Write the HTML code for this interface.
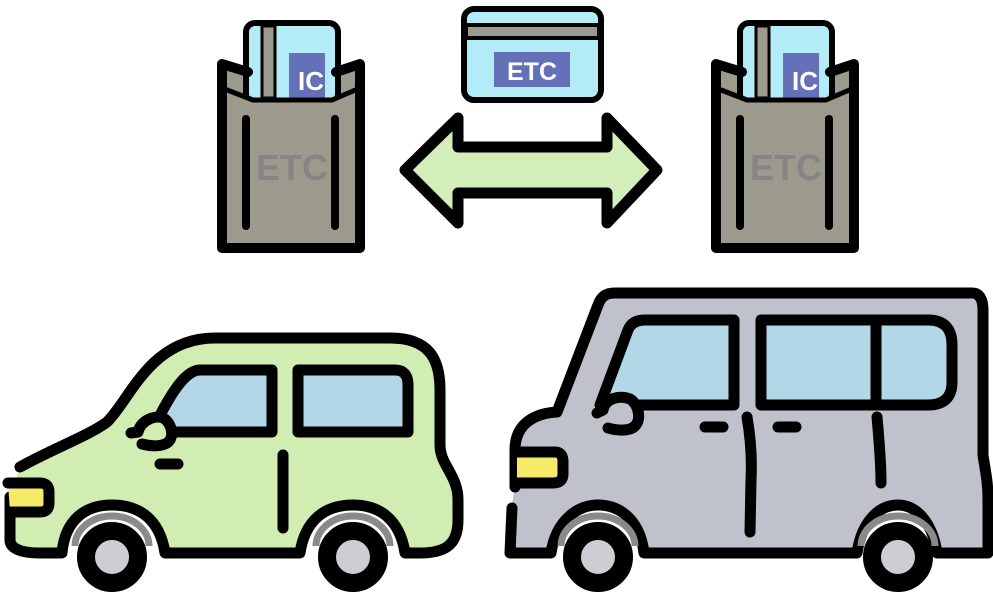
<!DOCTYPE html>
<html><head><meta charset="utf-8"><style>html,body{margin:0;padding:0;background:#fff}svg{display:block}</style></head>
<body>
<svg width="993" height="593" viewBox="0 0 993 593" xmlns="http://www.w3.org/2000/svg" font-family="Liberation Sans, sans-serif">
<defs>
<g id="pouch">
  <polygon points="222,64 248,72 335,72 360,64 360,248 222,248" fill="#9b9a8d"/>
  <rect x="246" y="23" width="92" height="80" rx="9" fill="#b3ecf7" stroke="#000" stroke-width="6"/>
  <rect x="262" y="26" width="13" height="72" fill="#9b9a8d" stroke="#000" stroke-width="3"/>
  <rect x="289" y="53" width="36" height="45" fill="#6470b8"/>
  <text x="298" y="90" font-size="26" font-weight="bold" fill="#fff">IC</text>
  <polygon points="222,88 253,100 332,100 360,88 360,248 222,248" fill="#9b9a8d"/>
  <polyline points="222,88 253,100 332,100 360,88" fill="none" stroke="#000" stroke-width="5" stroke-linejoin="round"/>
  <path d="M248,72 L222,64 L222,248 L360,248 L360,64 L336,72" fill="none" stroke="#000" stroke-width="10" stroke-linejoin="round" stroke-linecap="round"/>
  <line x1="246" y1="119" x2="246" y2="226" stroke="#000" stroke-width="8" stroke-linecap="round"/>
  <line x1="335" y1="119" x2="335" y2="226" stroke="#000" stroke-width="8" stroke-linecap="round"/>
  <text x="292" y="180" font-size="36" font-weight="bold" fill="#8a8385" text-anchor="middle">ETC</text>
</g>
</defs>
<use href="#pouch"/>
<use href="#pouch" x="494"/>

<rect x="464" y="9" width="137" height="91" rx="10" fill="#b3ecf7" stroke="#000" stroke-width="6"/>
<rect x="466" y="25" width="133" height="13" fill="#9b9a8d" stroke="#000" stroke-width="4"/>
<rect x="494" y="52" width="76" height="35" fill="#6470b8"/>
<text x="532" y="80" font-size="25" font-weight="bold" fill="#fff" text-anchor="middle">ETC</text>

<polygon points="405,170 458,118 458,147 607,147 607,118 657,170 607,223 607,193 458,193 458,223" fill="#d3eeb9" stroke="#000" stroke-width="11" stroke-linejoin="round"/>

<g stroke="#000" stroke-width="11" stroke-linecap="round" stroke-linejoin="round">
<path d="M20,467 C50,450 90,435 107,422 C130,400 150,338 215,338 L390,338 C430,338 440,360 440,390 L440,445 C440,465 458,475 458,500 L458,520 C458,545 445,553 420,553 L405,553 C400,520 380,505 353,505 C325,505 305,520 300,553 L165,553 C160,520 140,505 112,505 C85,505 65,520 62,553 L40,553 C20,553 10,548 10,540 L10,497 Z" fill="#d1edb2" stroke="none"/>
<path d="M20,467 C50,450 90,435 107,422 C130,400 150,338 215,338 L390,338 C430,338 440,360 440,390 L440,445 C440,465 458,475 458,500 L458,520 C458,545 445,553 420,553 L405,553 C400,520 380,505 353,505 C325,505 305,520 300,553 L165,553 C160,520 140,505 112,505 C85,505 65,520 62,553 L40,553 C20,553 10,548 10,540 L10,497" fill="none"/>
<path d="M75,546 A37,30 0 0 1 149,546" fill="none" stroke="#8a8a8a" stroke-width="7" stroke-linecap="butt"/>
<path d="M316,546 A37,30 0 0 1 390,546" fill="none" stroke="#8a8a8a" stroke-width="7" stroke-linecap="butt"/>
<path d="M8,483 L40,483 Q49,483 49,492 L49,503 Q49,512 40,512 L10,512" fill="#f5ea6a"/>
<path d="M155,425 C170,395 185,370 200,370 L272,370 L272,432 L165,432 Z" fill="#b2d7e6"/>
<path d="M298,370 L395,370 Q408,370 408,385 L408,432 L298,432 Z" fill="#b2d7e6"/>
<circle cx="112" cy="557" r="26" fill="#d0ccd3" stroke-width="18"/>
<circle cx="353" cy="557" r="26" fill="#d0ccd3" stroke-width="18"/>
<line x1="283" y1="455" x2="283" y2="528"/>
<line x1="160" y1="464" x2="178" y2="464"/>
<path d="M131,433 L138,432 C141,420 155,415 163,418 C172,422 176,440 165,444 C158,447 150,446 142,444" fill="#d1edb2"/>

<path d="M520,450 C520,420 540,413 557,412 L598,305 C601,297 605,293 615,293 L972,293 C980,293 983,300 983,310 L983,455 C985,470 988,480 988,500 L988,553 L937,553 C932,520 915,505 898,505 C880,505 862,520 857,553 L644,553 C640,520 620,505 598,505 C578,505 556,520 551,553 L510,553 L512,505 Z" fill="#bfc2cb" stroke="none"/>
<path d="M515,487 L515,450 C515,420 540,413 557,412 L598,305 C601,297 605,293 615,293 L972,293 C980,293 983,300 983,310 L983,455 C985,470 988,480 988,500 L988,553 L937,553 C932,520 915,505 898,505 C880,505 862,520 857,553 L644,553 C640,520 620,505 598,505 C578,505 556,520 551,553 L510,553 L512,508" fill="none"/>
<path d="M561,546 A37,30 0 0 1 635,546" fill="none" stroke="#8a8a8a" stroke-width="7" stroke-linecap="butt"/>
<path d="M861,546 A37,30 0 0 1 935,546" fill="none" stroke="#8a8a8a" stroke-width="7" stroke-linecap="butt"/>
<path d="M517,452 L555,452 Q563,452 563,462 L563,474 Q563,483 553,483 L517,483" fill="#f5ea6a"/>
<path d="M600,405 L628,330 Q632,320 645,320 L734,320 L734,405 Z" fill="#b2d7e6"/>
<path d="M761,320 L928,320 Q952,320 952,345 L952,382 Q952,405 928,405 L761,405 Z" fill="#b2d7e6"/>
<line x1="876" y1="322" x2="876" y2="403"/>
<circle cx="598" cy="557" r="26" fill="#d0ccd3" stroke-width="18"/>
<circle cx="898" cy="557" r="26" fill="#d0ccd3" stroke-width="18"/>
<path d="M747,417 C751,440 752,460 751,480 L750,532" fill="none"/>
<path d="M877,417 C879,440 881,460 881,483" fill="none"/>
<line x1="705" y1="427" x2="723" y2="427"/>
<line x1="778" y1="427" x2="796" y2="427"/>
<path d="M597,413 L603,410 C605,398 620,395 630,399 C640,405 643,425 630,429 C623,431 615,430 608,428" fill="#bfc2cb"/>
</g>
</svg>
</body></html>
